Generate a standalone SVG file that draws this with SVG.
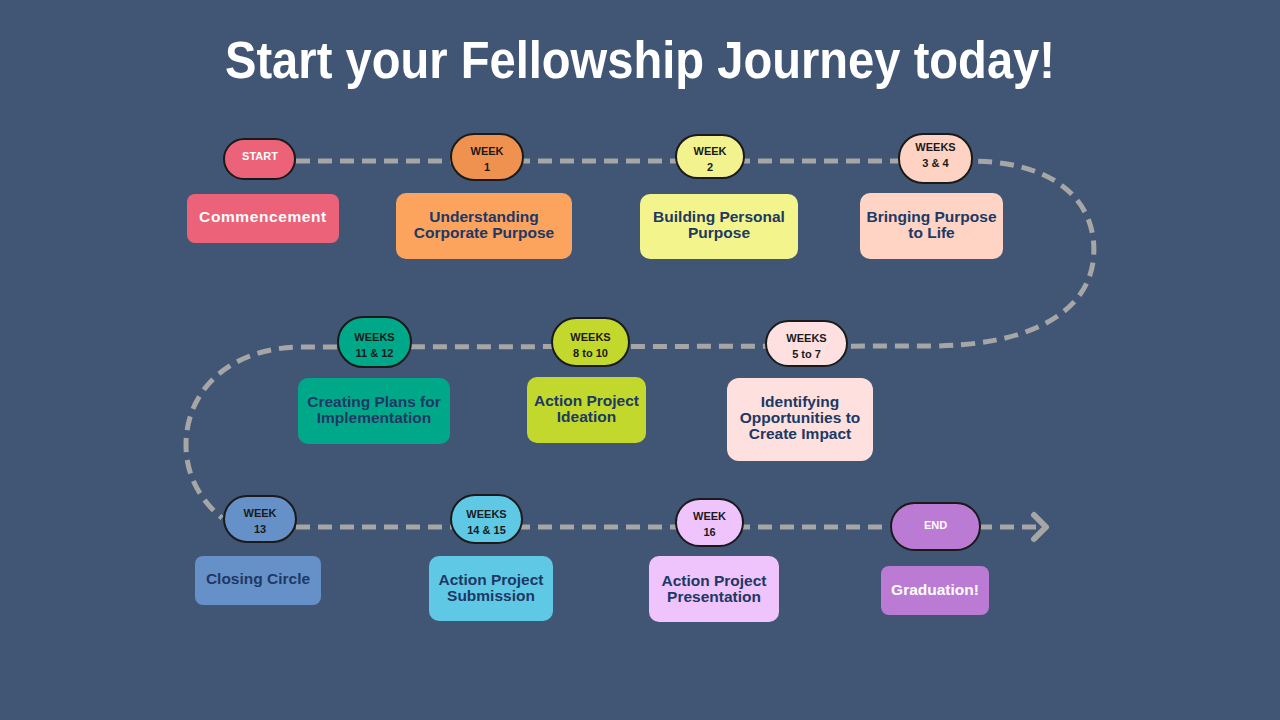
<svg xmlns="http://www.w3.org/2000/svg" width="1280" height="720" viewBox="0 0 1280 720">
<style>
.pill{stroke:#1a1a1a;stroke-width:2}
.pt{font-family:"Liberation Sans",Arial,sans-serif;font-weight:bold;font-size:11px;fill:#1a1a1a;text-anchor:middle}
.pw{fill:#ffffff}
.bt{font-family:"Liberation Sans",Arial,sans-serif;font-weight:bold;font-size:15.5px;fill:#203864;text-anchor:middle}
.bw{fill:#ffffff}
.path{fill:none;stroke:#a6a6a6;stroke-width:5;stroke-dasharray:14 8}
</style>
<rect width="1280" height="720" fill="#415675"/>
<text x="640" y="78" textLength="830" lengthAdjust="spacingAndGlyphs" font-family="Liberation Sans,Arial,sans-serif" font-weight="bold" font-size="51" fill="#ffffff" text-anchor="middle">Start your Fellowship Journey today!</text>
<g id="connectors">
<path class="path" d="M296,161 L972,161 C1065,162 1100,210 1093,262 C1085,318 1020,346 930,346 L300,347 C230,348 186,390 186,445 C186,475 200,500 222,518"/>
<path class="path" d="M296,527 L1036,527"/>
<path d="M1034,515 L1046,527 L1034,539" fill="none" stroke="#a6a6a6" stroke-width="6" stroke-linecap="round" stroke-linejoin="round"/>
</g>
<g id="start">
<rect class="pill" x="224" y="139" width="71" height="40" rx="20" fill="#ec6278"/>
<text class="pt pw" x="260" y="160">START</text>
</g>
<g id="commencement">
<rect x="187" y="194" width="152" height="49" rx="8" fill="#ec6278"/>
<text class="bt bw" x="263" y="222" font-size="16" letter-spacing="0.6">Commencement</text>
</g>
<g id="week1">
<rect class="pill" x="451" y="134" width="72" height="46" rx="23" fill="#f0924f"/>
<text class="pt" x="487" y="155">WEEK</text>
<text class="pt" x="487" y="171">1</text>
</g>
<g id="understanding">
<rect x="396" y="193" width="176" height="66" rx="10" fill="#fca35e"/>
<text class="bt" x="484" y="222">Understanding</text>
<text class="bt" x="484" y="238">Corporate Purpose</text>
</g>
<g id="week2">
<rect class="pill" x="676" y="135" width="68" height="43" rx="21.5" fill="#f2f28e"/>
<text class="pt" x="710" y="155">WEEK</text>
<text class="pt" x="710" y="171">2</text>
</g>
<g id="building">
<rect x="640" y="194" width="158" height="65" rx="10" fill="#f3f58c"/>
<text class="bt" x="719" y="222">Building Personal</text>
<text class="bt" x="719" y="238">Purpose</text>
</g>
<g id="weeks3-4">
<rect class="pill" x="899" y="134" width="73" height="49" rx="24" fill="#ffd3c3"/>
<text class="pt" x="935.5" y="151">WEEKS</text>
<text class="pt" x="935.5" y="167">3 &amp; 4</text>
</g>
<g id="bringing">
<rect x="860" y="193" width="143" height="66" rx="10" fill="#ffd4c4"/>
<text class="bt" x="931.5" y="222">Bringing Purpose</text>
<text class="bt" x="931.5" y="238">to Life</text>
</g>
<g id="weeks5-7">
<rect class="pill" x="766" y="321" width="81" height="45" rx="22.5" fill="#fee0e0"/>
<text class="pt" x="806.5" y="342">WEEKS</text>
<text class="pt" x="806.5" y="358">5 to 7</text>
</g>
<g id="identifying">
<rect x="727" y="378" width="146" height="83" rx="12" fill="#fee0de"/>
<text class="bt" x="800" y="407">Identifying</text>
<text class="bt" x="800" y="423">Opportunities to</text>
<text class="bt" x="800" y="439">Create Impact</text>
</g>
<g id="weeks8-10">
<rect class="pill" x="552" y="318" width="77" height="48" rx="24" fill="#c2d82c"/>
<text class="pt" x="590.5" y="341">WEEKS</text>
<text class="pt" x="590.5" y="357">8 to 10</text>
</g>
<g id="ideation">
<rect x="527" y="377" width="119" height="66" rx="10" fill="#c2d82c"/>
<text class="bt" x="586.5" y="406">Action Project</text>
<text class="bt" x="586.5" y="422">Ideation</text>
</g>
<g id="weeks11-12">
<rect class="pill" x="338" y="317" width="73" height="50" rx="25" fill="#00a88a"/>
<text class="pt" x="374.5" y="341">WEEKS</text>
<text class="pt" x="374.5" y="357">11 &amp; 12</text>
</g>
<g id="creating">
<rect x="298" y="378" width="152" height="66" rx="10" fill="#00a88a"/>
<text class="bt" x="374" y="407">Creating Plans for</text>
<text class="bt" x="374" y="423">Implementation</text>
</g>
<g id="week13">
<rect class="pill" x="224" y="496" width="72" height="46" rx="23" fill="#6690c8"/>
<text class="pt" x="260" y="517">WEEK</text>
<text class="pt" x="260" y="533">13</text>
</g>
<g id="closing">
<rect x="195" y="556" width="126" height="49" rx="8" fill="#6690c8"/>
<text class="bt" x="258" y="584">Closing Circle</text>
</g>
<g id="weeks14-15">
<rect class="pill" x="451" y="495" width="71" height="48" rx="24" fill="#5fc8e5"/>
<text class="pt" x="486.5" y="518">WEEKS</text>
<text class="pt" x="486.5" y="534">14 &amp; 15</text>
</g>
<g id="submission">
<rect x="429" y="556" width="124" height="65" rx="10" fill="#5fc8e5"/>
<text class="bt" x="491" y="585">Action Project</text>
<text class="bt" x="491" y="601">Submission</text>
</g>
<g id="week16">
<rect class="pill" x="676" y="499" width="67" height="47" rx="23.5" fill="#efc3fb"/>
<text class="pt" x="709.5" y="520">WEEK</text>
<text class="pt" x="709.5" y="536">16</text>
</g>
<g id="presentation">
<rect x="649" y="556" width="130" height="66" rx="10" fill="#efc3fb"/>
<text class="bt" x="714" y="586">Action Project</text>
<text class="bt" x="714" y="602">Presentation</text>
</g>
<g id="end">
<rect class="pill" x="891" y="503" width="89" height="47" rx="23.5" fill="#bb7ad4"/>
<text class="pt pw" x="935.5" y="529">END</text>
</g>
<g id="graduation">
<rect x="881" y="566" width="108" height="49" rx="8" fill="#bb7ad4"/>
<text class="bt bw" x="935" y="595" font-size="16">Graduation!</text>
</g>
</svg>
